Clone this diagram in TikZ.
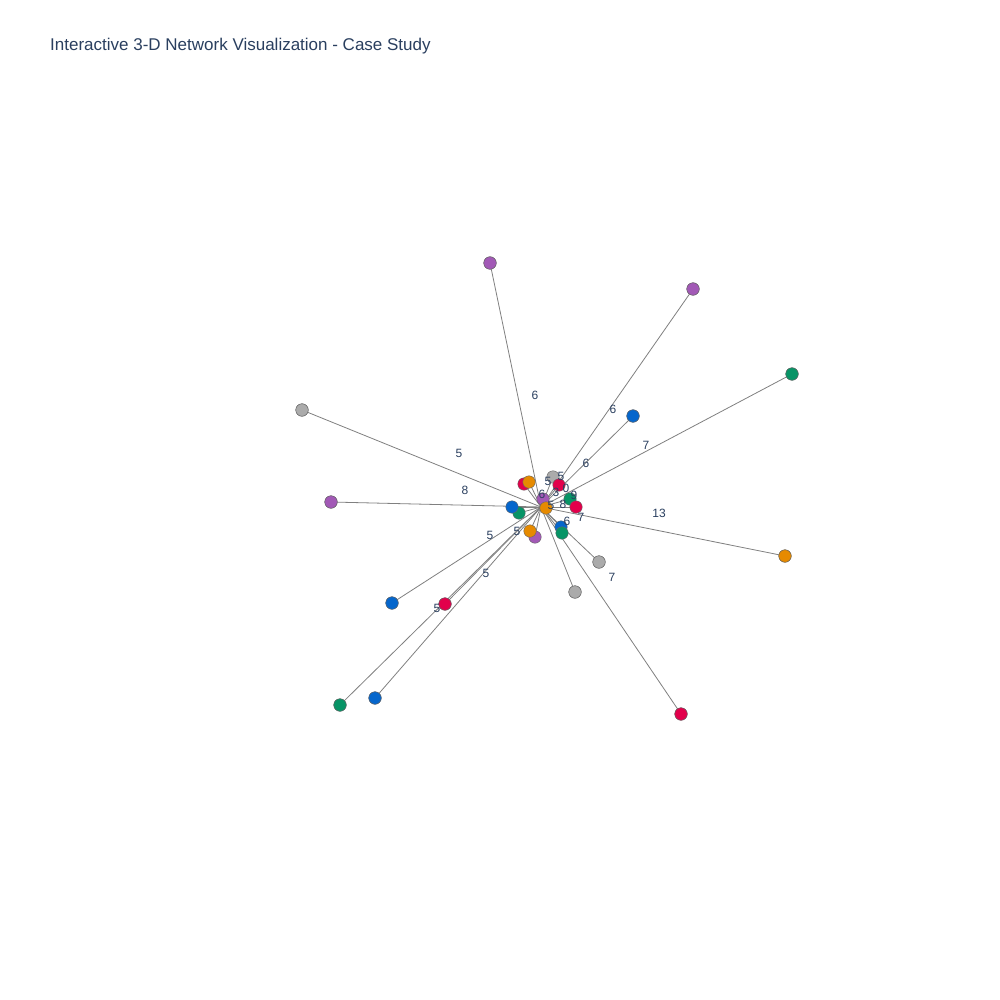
\documentclass[tikz,border=0pt]{standalone}
\usepackage{fontspec}
\setmainfont{Liberation Sans}
\definecolor{ttl}{HTML}{2A3F5F}
\definecolor{cpur}{HTML}{A259B6}
\definecolor{cgrn}{HTML}{079466}
\definecolor{cblu}{HTML}{0566CC}
\definecolor{cred}{HTML}{E2004B}
\definecolor{cora}{HTML}{E68A00}
\definecolor{cgry}{HTML}{ABABAB}
\definecolor{cedge}{HTML}{808080}
\tikzset{
  nd/.style={circle,draw=black!60,line width=0.4pt,minimum size=12.5pt,inner sep=0pt},
  ed/.style={draw=cedge,line width=0.8pt},
  el/.style={text=ttl,font=\fontsize{12}{12}\selectfont,inner sep=0pt},
}
\begin{document}
\begin{tikzpicture}[x=1pt,y=-1pt]
\useasboundingbox (0,0) rectangle (1000,1000);
\fill[white] (0,0) rectangle (1000,1000);
\node[anchor=base west,text=ttl,font=\fontsize{17}{17}\selectfont,inner sep=0pt] (title) at (50,51) {Interactive 3-D Network Visualization - Case Study};
\coordinate (hub) at (541,507);
% outer nodes
\node[nd,fill=cpur] (o1) at (490,263) {};
\node[nd,fill=cpur] (o2) at (693,289) {};
\node[nd,fill=cgrn] (o3) at (792,374) {};
\node[nd,fill=cblu] (o4) at (633,416) {};
\node[nd,fill=cgry] (o5) at (302,410) {};
\node[nd,fill=cpur] (o6) at (331,502) {};
\node[nd,fill=cora] (o7) at (785,556) {};
\node[nd,fill=cgry] (o8) at (599,562) {};
\node[nd,fill=cgry] (o9) at (575,592) {};
\node[nd,fill=cblu] (o10) at (392,603) {};
\node[nd,fill=cred] (o11) at (445,604) {};
\node[nd,fill=cgrn] (o12) at (340,705) {};
\node[nd,fill=cblu] (o13) at (375,698) {};
\node[nd,fill=cred] (o14) at (681,714) {};
% inner node positions
\coordinate (i1) at (524,484);
\coordinate (i2) at (553,477);
\coordinate (i3) at (559,485);
\coordinate (i4) at (570,499);
\coordinate (i5) at (576,507);
\coordinate (i6) at (543,499);
\coordinate (i7) at (512,507);
\coordinate (i8) at (519,513);
\coordinate (i9) at (535,537);
\coordinate (i10) at (530,531);
\coordinate (i11) at (561,527);
\coordinate (i12) at (562,533);
\coordinate (i13) at (529,482);
% edges
\foreach \n in {o1,o2,o3,o4,o5,o6,o7,o8,o9,o10,o11,o12,o13,o14}
  \draw[ed] (hub) -- (\n.center);
\foreach \n in {i1,i2,i3,i4,i5,i6,i7,i8,i9,i10,i11,i12,i13}
  \draw[ed] (hub) -- (\n);
% outer nodes on top of edges
\foreach \n/\c in {o1/cpur,o2/cpur,o3/cgrn,o4/cblu,o5/cgry,o6/cpur,o7/cora,o8/cgry,o9/cgry,o10/cblu,o11/cred,o12/cgrn,o13/cblu,o14/cred}
  \node[nd,fill=\c] at (\n) {};
% inner nodes
\node[nd,fill=cpur] (n6) at (i6) {};
\node[nd,fill=cgry] (n2) at (i2) {};
\node[nd,fill=cred] (n1) at (i1) {};
\node[nd,fill=cora] (n13) at (i13) {};
\node[nd,fill=cred] (n3) at (i3) {};
\node[nd,fill=cgrn] (n4) at (i4) {};
\node[nd,fill=cred] (n5) at (i5) {};
\node[nd,fill=cgrn] (n8) at (i8) {};
\node[nd,fill=cblu] (n7) at (i7) {};
\node[nd,fill=cpur] (n9) at (i9) {};
\node[nd,fill=cora] (n10) at (i10) {};
\node[nd,fill=cblu] (n11) at (i11) {};
\node[nd,fill=cgrn] (n12) at (i12) {};
\node[nd,fill=cora] (hubn) at (546,508) {};
% edge labels
\node[el] (l1) at (535,395) {6};
\node[el] (l2) at (613,409) {6};
\node[el] (l3) at (646,445) {7};
\node[el] (l4) at (586,463) {6};
\node[el] (l5) at (459,453) {5};
\node[el] (l6) at (465,490) {8};
\node[el] (l7) at (659,513) {13};
\node[el] (l8) at (581,517) {7};
\node[el] (l9) at (567,521) {6};
\node[el] (l10) at (490,535) {5};
\node[el] (l11) at (517,531) {5};
\node[el] (l12) at (486,573) {5};
\node[el] (l13) at (437,608) {5};
\node[el] (l14) at (612,577) {7};
\node[el] (l15) at (548,481) {5};
\node[el] (l16) at (561,476) {5};
\node[el] (l17) at (542,494) {6};
\node[el] (l18) at (556,492) {3};
\node[el] (l19) at (551,505) {5};
\node[el] (l20) at (566,488) {0};
\node[el] (l21) at (574,495) {9};
\node[el] (l22) at (563,504) {8};
\end{tikzpicture}
\end{document}
